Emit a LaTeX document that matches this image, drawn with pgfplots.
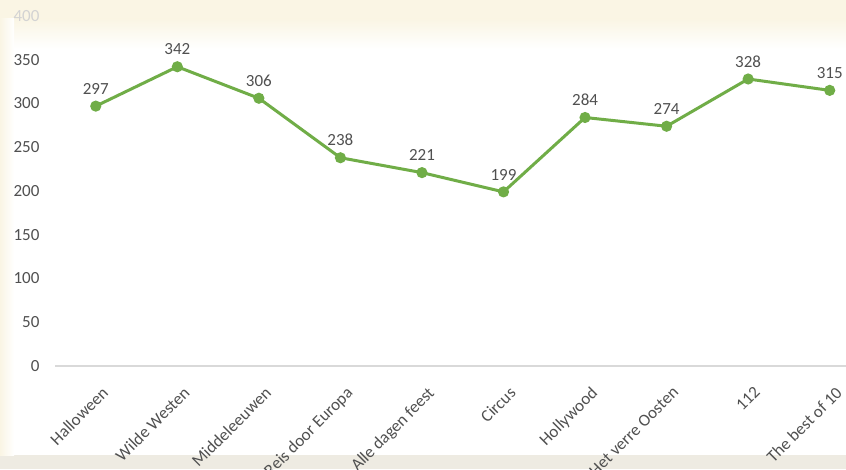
\documentclass[border=0pt]{standalone}
\usepackage{pgfplots}
\pgfplotsset{compat=1.18}
\usepackage{fontspec}
\setmainfont{Carlito}
\definecolor{cream}{RGB}{250,245,228}
\definecolor{bottomc}{RGB}{238,235,226}
\definecolor{txt}{RGB}{80,80,80}
\definecolor{axl}{RGB}{217,217,217}
\definecolor{lgreen}{RGB}{112,173,71}
\begin{document}
\begin{tikzpicture}[x=1pt,y=1pt]
\useasboundingbox (0,0) rectangle (846,469);
\fill[cream] (0,0) rectangle (846,469);
\fill[bottomc] (0,0) rectangle (846,14);
\shade[top color=cream, bottom color=white] (14,420) rectangle (846,450);
\fill[white] (14,14) rectangle (846,420);
\shade[left color=cream, right color=white] (0,14) rectangle (14,450);
\begin{axis}[
  at={(55pt,103pt)}, anchor=south west,
  scale only axis, width=791pt, height=350pt,
  xmin=-0.5, xmax=9.2, ymin=0, ymax=400,
  axis x line*=bottom, axis y line=none,
  x axis line style={draw=axl, line width=1.5pt, -},
  xtick={0,...,9},
  xticklabels={Halloween, Wilde Westen, Middeleeuwen, Reis door Europa, Alle dagen feest, Circus, Hollywood, Het verre Oosten, 112, The best of 10},
  xticklabel style={rotate=45, anchor=north east, font=\fontsize{17}{19}\selectfont, text=txt, xshift=-7pt, yshift=-14pt},
  major tick length=0pt,
  clip=false,
  /pgf/number format/assume math mode=true,
  nodes near coords,
  every node near coord/.append style={font=\fontsize{17}{19}\selectfont, text=txt, anchor=south, yshift=7pt},
]
\addplot[lgreen, line width=3pt, mark=*, mark size=4pt, mark options={fill=lgreen, draw=none}]
coordinates {(0,297) (1,342) (2,306) (3,238) (4,221) (5,199) (6,284) (7,274) (8,328) (9,315)};
\end{axis}
\begin{scope}[font=\fontsize{17}{19}\selectfont, text=txt]
\foreach \v in {0,50,...,350} {
  \node[anchor=east] at (43, 103+\v*0.875) {\v};
}
\node[anchor=east, text=txt!25] at (43, 453) {400};
\end{scope}
\end{tikzpicture}
\end{document}
